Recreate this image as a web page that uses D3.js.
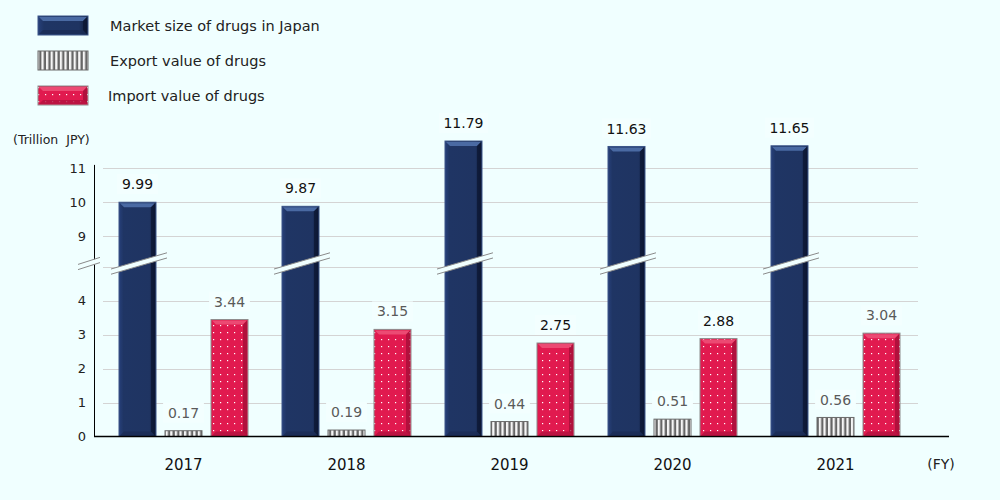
<!DOCTYPE html>
<html>
<head>
<meta charset="utf-8">
<script src="https://cdn.jsdelivr.net/npm/d3@7.9.0/dist/d3.min.js"></script>
<style>
  html, body { margin: 0; padding: 0; background: #f0ffff; }
  svg { display: block; font-family: "DejaVu Sans", Verdana, sans-serif; }
</style>
</head>
<body>
<div id="chart"></div>
<script>
const years = ['2017', '2018', '2019', '2020', '2021'];
const marketSize = [9.99, 9.87, 11.79, 11.63, 11.65];
const exportValue = [0.17, 0.19, 0.44, 0.51, 0.56];
const importValue = [3.44, 3.15, 2.75, 2.88, 3.04];
const seriesKeys = ['market', 'export', 'import'];
const seriesNames = ['Market size of drugs in Japan', 'Export value of drugs', 'Import value of drugs'];
const lowerTicks = [0, 1, 2, 3, 4];
const upperTicks = [9, 10, 11];
const unitLabel = '(Trillion  JPY)';
const fyLabel = '(FY)';

// which import labels the original prints in gray instead of black
const grayImportLabels = ['2017', '2018', '2021'];

const width = 1000;
const height = 500;
const bg = '#f0ffff';

const rows = years.map((year, i) => ({
    year,
    market: marketSize[i],
    export: exportValue[i],
    import: importValue[i],
}));

const svg = d3.select('#chart')
    .append('svg')
    .attr('width', width)
    .attr('height', height)
    .style('background', bg);

const defs = svg.append('defs');

// navy body: slightly lit on the left, dark on the right
const navyGrad = defs.append('linearGradient').attr('id', 'navyGrad');
navyGrad.append('stop').attr('offset', '0%').attr('stop-color', '#27407a');
navyGrad.append('stop').attr('offset', '12%').attr('stop-color', '#1f3564');
navyGrad.append('stop').attr('offset', '82%').attr('stop-color', '#1f3462');
navyGrad.append('stop').attr('offset', '100%').attr('stop-color', '#0e1a36');

// white dots over red
const dots = defs.append('pattern')
    .attr('id', 'dots')
    .attr('patternUnits', 'userSpaceOnUse')
    .attr('width', 7).attr('height', 7);
dots.append('rect').attr('width', 7).attr('height', 7).attr('fill', '#e11a4f');
dots.append('rect').attr('x', 3).attr('y', 3).attr('width', 1.2).attr('height', 1.2).attr('fill', '#fff');

// vertical stripes for export
const stripes = defs.append('pattern')
    .attr('id', 'stripes')
    .attr('patternUnits', 'userSpaceOnUse')
    .attr('width', 4.6).attr('height', 10);
stripes.append('rect').attr('width', 4.6).attr('height', 10).attr('fill', '#f6f6f6');
stripes.append('rect').attr('x', 2.3).attr('width', 2.3).attr('height', 10).attr('fill', '#666');

const fills = {
    market: { fill: 'url(#navyGrad)', stroke: '#3a5488', top: '#4a6aa3', bottom: '#1a2c55', right: '#0c1630' },
    export: { fill: 'url(#stripes)', stroke: '#6a6a6a', top: null, bottom: null, right: null },
    import: { fill: 'url(#dots)', stroke: '#8c8c8c', top: '#ec4a73', bottom: '#b3123f', right: '#9c0d35' },
};

// ---- scales ----
const unit = 34;
const base = 436.5;
const breakLow = 5;
const breakHigh = 8.1;

const y = d3.scaleLinear()
    .domain([0, breakLow, breakHigh, 12])
    .range([base, base - breakLow * unit, base - breakLow * unit, base - breakLow * unit - (12 - breakHigh) * unit]);

const x0 = d3.scaleBand()
    .domain(years)
    .range([102, 917])
    .paddingInner(0);

const x1 = d3.scaleBand()
    .domain(seriesKeys)
    .range([0, 129])
    .paddingInner(0.196);

const groupLeft = (year) => x0(year) + x0.bandwidth() / 2 - 64.5;

// ---- gridlines ----
const gridVals = [...lowerTicks.filter(d => d > 0), breakLow, ...upperTicks];
svg.append('g')
    .selectAll('line')
    .data(gridVals)
    .join('line')
    .attr('x1', 103)
    .attr('x2', 918)
    .attr('y1', d => Math.round(y(d)) + 0.5)
    .attr('y2', d => Math.round(y(d)) + 0.5)
    .attr('stroke', '#d4d4d4')
    .attr('stroke-width', 1);

// ---- y axis (drawn by hand because of the break) ----
svg.append('line')
    .attr('x1', 94.5).attr('x2', 94.5)
    .attr('y1', y(11) - 3).attr('y2', base)
    .attr('stroke', '#000').attr('stroke-width', 1);

svg.append('g')
    .selectAll('text')
    .data([...lowerTicks, ...upperTicks])
    .join('text')
    .attr('x', 86)
    .attr('y', d => y(d))
    .attr('dy', '0.36em')
    .attr('text-anchor', 'end')
    .attr('font-size', 13)
    .attr('fill', '#222')
    .text(d => d);

svg.append('text')
    .attr('x', 13)
    .attr('y', 139)
    .attr('dy', '0.36em')
    .attr('font-size', 12.5)
    .attr('fill', '#222')
    .style('white-space', 'pre')
    .text(unitLabel);

// ---- bars ----
function drawBar(g, bx, by, bw, bh, style) {
    g.append('rect')
        .attr('x', bx).attr('y', by)
        .attr('width', bw).attr('height', bh)
        .attr('fill', style.fill)
        .attr('stroke', style.stroke)
        .attr('stroke-width', 1);
    const b = Math.min(5, bh / 2);
    if (style.top && bh > 8) {
        g.append('polygon')
            .attr('points', [[bx + 1, by + 1], [bx + bw - 1, by + 1], [bx + bw - b, by + b], [bx + b, by + b]].join(' '))
            .attr('fill', style.top);
        g.append('polygon')
            .attr('points', [[bx + 1, by + bh - 1], [bx + bw - 1, by + bh - 1], [bx + bw - b, by + bh - b], [bx + b, by + bh - b]].join(' '))
            .attr('fill', style.bottom)
            .attr('opacity', 0.8);
        g.append('polygon')
            .attr('points', [[bx + bw - 1, by + 1], [bx + bw - 1, by + bh - 1], [bx + bw - b, by + bh - b], [bx + bw - b, by + b]].join(' '))
            .attr('fill', style.right)
            .attr('opacity', 0.7);
    }
}

const barLayer = svg.append('g');
rows.forEach(row => {
    seriesKeys.forEach(key => {
        const v = row[key];
        const bx = groupLeft(row.year) + x1(key);
        const top = y(v);
        drawBar(barLayer, bx, top, x1.bandwidth(), base - top, fills[key]);
    });
});

// ---- break marks across the tall bars and the axis ----
const breakY = y(breakLow) - 3;
function breakBand(g, xl, xr, cy, slope) {
    const h = 2.6;
    const yl = cy - slope * (xl - (xl + xr) / 2);
    const yr = cy - slope * (xr - (xl + xr) / 2);
    g.append('polygon')
        .attr('points', [[xl, yl - h], [xr, yr - h], [xr, yr + h], [xl, yl + h]].join(' '))
        .attr('fill', bg);
    g.append('line').attr('x1', xl).attr('y1', yl - h).attr('x2', xr).attr('y2', yr - h)
        .attr('stroke', '#8a8a8a').attr('stroke-width', 1);
    g.append('line').attr('x1', xl).attr('y1', yl + h).attr('x2', xr).attr('y2', yr + h)
        .attr('stroke', '#8a8a8a').attr('stroke-width', 1);
}
const breakLayer = svg.append('g');
rows.forEach(row => {
    const bx = groupLeft(row.year) + x1('market');
    breakBand(breakLayer, bx - 8, bx + x1.bandwidth() + 11, breakY, 0.29);
});
breakBand(breakLayer, 78, 100, breakY, 0.32);

// ---- baseline ----
svg.append('line')
    .attr('x1', 94).attr('x2', 949)
    .attr('y1', base).attr('y2', base)
    .attr('stroke', '#000').attr('stroke-width', 1.5);

// ---- value labels ----
const labelLayer = svg.append('g');
rows.forEach(row => {
    seriesKeys.forEach(key => {
        const v = row[key];
        const cx = groupLeft(row.year) + x1(key) + x1.bandwidth() / 2;
        const cy = y(v) - 18;
        let color = '#111';
        if (key === 'export') color = '#5a5a5a';
        if (key === 'import' && grayImportLabels.includes(row.year)) color = '#5a5a5a';
        const txt = v.toFixed(2);
        const tw = txt.length * 8.2 + 8;
        labelLayer.append('rect')
            .attr('x', cx - tw / 2).attr('y', cy - 10)
            .attr('width', tw).attr('height', 20)
            .attr('fill', '#f3ffff');
        labelLayer.append('text')
            .attr('x', cx).attr('y', cy)
            .attr('dy', '0.36em')
            .attr('text-anchor', 'middle')
            .attr('font-size', 14)
            .attr('fill', color)
            .text(txt);
    });
});

// ---- x labels ----
svg.append('g')
    .selectAll('text')
    .data(years)
    .join('text')
    .attr('x', d => x0(d) + x0.bandwidth() / 2)
    .attr('y', 465)
    .attr('dy', '0.36em')
    .attr('text-anchor', 'middle')
    .attr('font-size', 15)
    .attr('fill', '#111')
    .text(d => d);

svg.append('text')
    .attr('x', 941).attr('y', 464)
    .attr('dy', '0.36em')
    .attr('text-anchor', 'middle')
    .attr('font-size', 14)
    .attr('fill', '#222')
    .text(fyLabel);

// ---- legend ----
const legend = svg.append('g');
const legendY = [16, 51, 86];
const legendTextX = [110, 110, 108];
seriesKeys.forEach((key, i) => {
    drawBar(legend, 38, legendY[i], 50, 19, fills[key]);
    legend.append('text')
        .attr('x', legendTextX[i])
        .attr('y', legendY[i] + 10)
        .attr('dy', '0.36em')
        .attr('font-size', 14.5)
        .attr('fill', '#222')
        .text(seriesNames[i]);
});
</script>
</body>
</html>
